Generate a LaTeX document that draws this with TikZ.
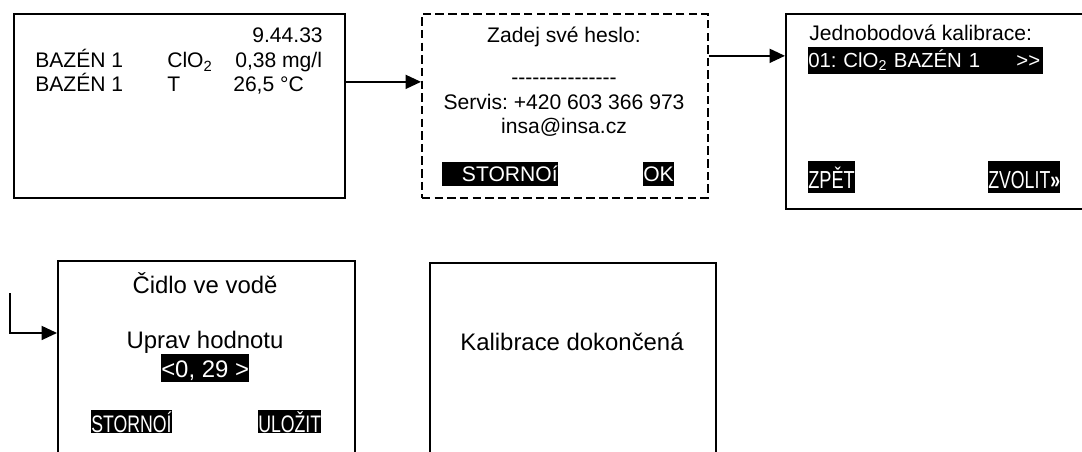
\documentclass[tikz,border=0pt]{standalone}
\usepackage{fontspec}
\usepackage{graphicx}
\newfontfamily\arial{Liberation Sans}
\usetikzlibrary{arrows.meta}
\frenchspacing

\tikzset{
  screen/.style={draw, line width=1.3pt, inner sep=0pt, anchor=north west},
  txt/.style={inner sep=0pt, font=\arial\fontsize{15}{18}\selectfont},
  txtbig/.style={inner sep=0pt, font=\arial\fontsize{17}{20}\selectfont},
  hl/.style={fill=black, text=white, inner sep=0pt, anchor=north west},
  arr/.style={line width=1.2pt, -{Triangle[length=11pt,width=10pt]}},
}
\newcommand{\narrowtxt}[2]{\scalebox{#1}[1]{#2}}

\begin{document}
\begin{tikzpicture}[x=0.025cm, y=-0.025cm]
    \useasboundingbox (0,0) rectangle (1082,452);
    \clip (0,0) rectangle (1082,452);

    % main screen
    \node[screen, minimum width=331*0.025cm, minimum height=184*0.025cm] (M) at (13,13) {};
    \node[txt, anchor=base east] (time) at (323,43) {9.44.33};
    \node[txt, anchor=base west] (pool1) at (35,68) {BAZÉN 1};
    \node[txt, anchor=base west] (qty1) at (167,68) {ClO\textsubscript{2}};
    \node[txt, anchor=base west] (val1) at (235,68) {0,38 mg/l};
    \node[txt, anchor=base west] (pool2) at (35,92) {BAZÉN 1};
    \node[txt, anchor=base west] (qty2) at (167,92) {T};
    \node[txt, anchor=base west] (val2) at (233,92) {26,5 °C};

    % password screen
    \node[screen, dash pattern=on 6pt off 3pt, minimum width=286*0.025cm, minimum height=184*0.025cm] (P) at (421,13) {};
    \node[txt, anchor=base] (ask) at (564,43) {Zadej své heslo:};
    \node[txt, anchor=base] (pwd) at (564,85) {---------------};
    \node[txt, anchor=base] (tel) at (564,110) {Servis: +420 603 366 973};
    \node[txt, anchor=base] (mail) at (564,134) {insa@insa.cz};
    \node[hl, txt, text height=13.6pt, text depth=3.4pt] (cancel) at (442,162) {\hspace*{14pt}STORNOí};
    \node[hl, txt, text height=13.6pt, text depth=3.4pt] (ok) at (643,162) {OK};

    % calibration menu
    \node[screen, minimum width=330*0.025cm, minimum height=195*0.025cm] (K) at (785,13) {};
    \node[txt, anchor=base west] (title) at (809,41) {Jednobodová kalibrace:};
    \node[hl, txt, font=\arial\fontsize{14.5}{17}\selectfont, text width=167pt, align=left,
          text height=14.2pt, text depth=5pt] (item) at (808,47)
          {01: ClO\textsubscript{2} BAZÉN 1\hfill>>\hspace*{2pt}};
    \node[hl, txtbig, text height=19.2pt, text depth=3.6pt] (back) at (808,161) {\narrowtxt{0.74}{\fontsize{17.5}{20}\selectfont ZPĚT}};
    \node[hl, txtbig, text height=19.2pt, text depth=3.6pt] (choose) at (988,161) {\narrowtxt{0.72}{\fontsize{17.5}{20}\selectfont ZVOLIT\textbf{»}}};

    % sensor value
    \node[screen, minimum width=297*0.025cm, minimum height=220*0.025cm] (C) at (57,260) {};
    \node[txtbig, anchor=base] (sensor) at (205,293) {Čidlo ve vodě};
    \node[txtbig, anchor=base] (edit) at (205,348) {Uprav hodnotu};
    \node[hl, txtbig, text height=16.4pt, text depth=3.6pt] (value) at (161,354) {<0, 29 >};
    \node[hl, txtbig, text height=15.6pt, text depth=0.8pt] (cancel2) at (91,410) {\narrowtxt{0.74}{STORNOÍ}};
    \node[hl, txtbig, text height=15.6pt, text depth=0.8pt] (save) at (258,410) {\narrowtxt{0.74}{ULOŽIT}};

    % done
    \node[screen, minimum width=286*0.025cm, minimum height=220*0.025cm] (D) at (429,262) {};
    \node[txtbig, anchor=base] (finish) at (572,350) {Kalibrace dokončená};

    \draw[arr] ([yshift=17.1pt]M.east) -- ([yshift=17.1pt]P.west);
    \draw[arr] ([yshift=35.6pt]P.east) coordinate (s2) -- (s2 -| K.west);
    \coordinate (in4) at (10,293);
    \draw[arr] (in4) |- ([yshift=-51.9pt]C.north west);
\end{tikzpicture}
\end{document}
